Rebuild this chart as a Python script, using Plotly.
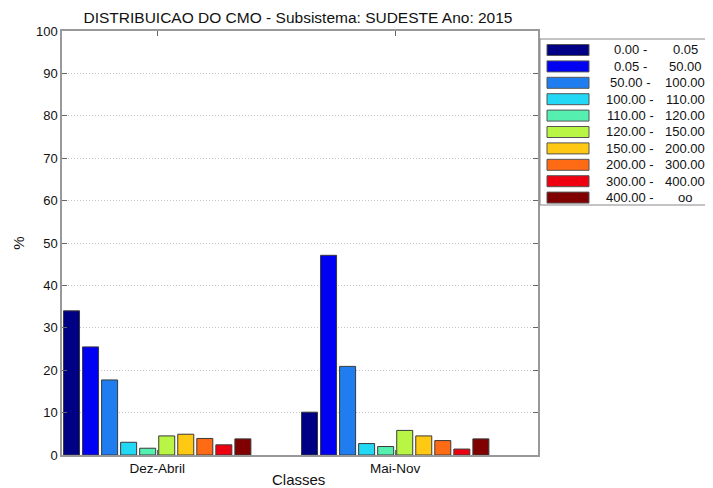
import plotly.graph_objects as go

categories = ["Dez-Abril", "Mai-Nov"]
class_low = ["0.00", "0.05", "50.00", "100.00", "110.00", "120.00", "150.00", "200.00", "300.00", "400.00"]
class_high = ["0.05", "50.00", "100.00", "110.00", "120.00", "150.00", "200.00", "300.00", "400.00", "oo"]
dez_abril = [34.0, 25.5, 17.7, 3.0, 1.6, 4.5, 4.9, 3.9, 2.4, 3.8]
mai_nov = [10.1, 47.1, 20.9, 2.7, 2.0, 5.8, 4.5, 3.4, 1.4, 3.8]
colors = ["#000085", "#0000F2", "#1F7DF0", "#22D8F5", "#55EFB0",
          "#B8F545", "#FFC812", "#FF6A15", "#EE0010", "#800000"]
yticks = [0, 10, 20, 30, 40, 50, 60, 70, 80, 90, 100]

FONT = "Liberation Sans, Arial, sans-serif"
xpos = [1, 2]

fig = go.Figure()
for i in range(len(class_low)):
    fig.add_trace(go.Bar(
        x=xpos, y=[dez_abril[i], mai_nov[i]],
        name=f"{class_low[i]} - {class_high[i]}",
        marker=dict(color=colors[i], line=dict(color="#3a3a3a", width=1)),
        showlegend=False,
    ))

# Page body has an 8px default margin: work in window coordinates, convert.
OFF = 8
WIN_W, WIN_H = 713, 488
W, H = WIN_W - OFF, WIN_H - OFF
# plot area in window pixels
PL, PR, PT, PB = 62, 538, 31, 455
ml, mr, mt, mb = PL - OFF, W - (PR - OFF), PT - OFF, H - (PB - OFF)
pw, ph = W - ml - mr, H - mt - mb
px = lambda X: (X - OFF - ml) / pw
py = lambda Y: 1 - (Y - OFF - mt) / ph

# Manual legend (MATLAB-style)
L, T, B = 540, 39, 205
shapes = [dict(type="rect", xref="paper", yref="paper",
               x0=px(L), x1=px(L + 200), y0=py(B), y1=py(T),
               line=dict(color="#888888", width=1), fillcolor="white", layer="above")]
annotations = []
row0, step = 50, 16.4
for i in range(len(class_low)):
    yc = row0 + i * step
    shapes.append(dict(type="rect", xref="paper", yref="paper",
                       x0=px(547), x1=px(589), y0=py(yc + 5.5), y1=py(yc - 5.5),
                       fillcolor=colors[i], line=dict(color="#555555", width=1), layer="above"))
    annotations.append(dict(xref="paper", yref="paper", x=px(630), y=py(yc),
                            text=f"{class_low[i]} -", showarrow=False,
                            xanchor="center", yanchor="middle",
                            font=dict(family=FONT, size=13, color="#111111")))
    annotations.append(dict(xref="paper", yref="paper", x=px(685), y=py(yc),
                            text=class_high[i], showarrow=False,
                            xanchor="center", yanchor="middle",
                            font=dict(family=FONT, size=13, color="#111111")))

# x-axis title as annotation near bottom
annotations.append(dict(xref="paper", yref="paper", x=px(298), y=py(479),
                        text="Classes", showarrow=False, xanchor="center", yanchor="middle",
                        font=dict(family=FONT, size=15, color="#111111")))

fig.update_layout(
    width=W, height=H,
    margin=dict(l=ml, r=mr, t=mt, b=mb, autoexpand=False),
    paper_bgcolor="white", plot_bgcolor="white",
    barmode="group", bargap=0.2, bargroupgap=0.16,
    font=dict(family=FONT, size=13, color="#222222"),
    title=dict(text="DISTRIBUICAO DO CMO - Subsistema: SUDESTE Ano: 2015",
               x=(298 - OFF) / W, xanchor="center", y=1 - (18 - OFF) / H, yanchor="middle",
               yref="container", pad=dict(t=0, b=0, l=0, r=0),
               font=dict(family=FONT, size=15.5, color="#111111"), automargin=False),
    shapes=shapes,
    annotations=annotations,
)
fig.update_xaxes(
    range=[0.6, 2.6], tickvals=xpos, ticktext=categories, automargin=False,
    showline=True, linecolor="#999999", linewidth=1.5, mirror="allticks",
    ticks="inside", ticklen=5, tickcolor="#666666",
    showgrid=False, zeroline=False,
    tickfont=dict(family=FONT, size=13.5, color="#111111"),
)
fig.update_yaxes(
    range=[0, 100], tickvals=yticks, automargin=False,
    showline=True, linecolor="#999999", linewidth=1.5, mirror="allticks",
    ticks="inside", ticklen=5, tickcolor="#666666",
    showgrid=True, gridcolor="#c4c4c4", griddash="1px,2px", gridwidth=1,
    zeroline=False,
    tickfont=dict(family=FONT, size=13, color="#111111"),
    title=dict(text="%", standoff=8, font=dict(family=FONT, size=15, color="#111111")),
)

fig.write_html("out.html")
